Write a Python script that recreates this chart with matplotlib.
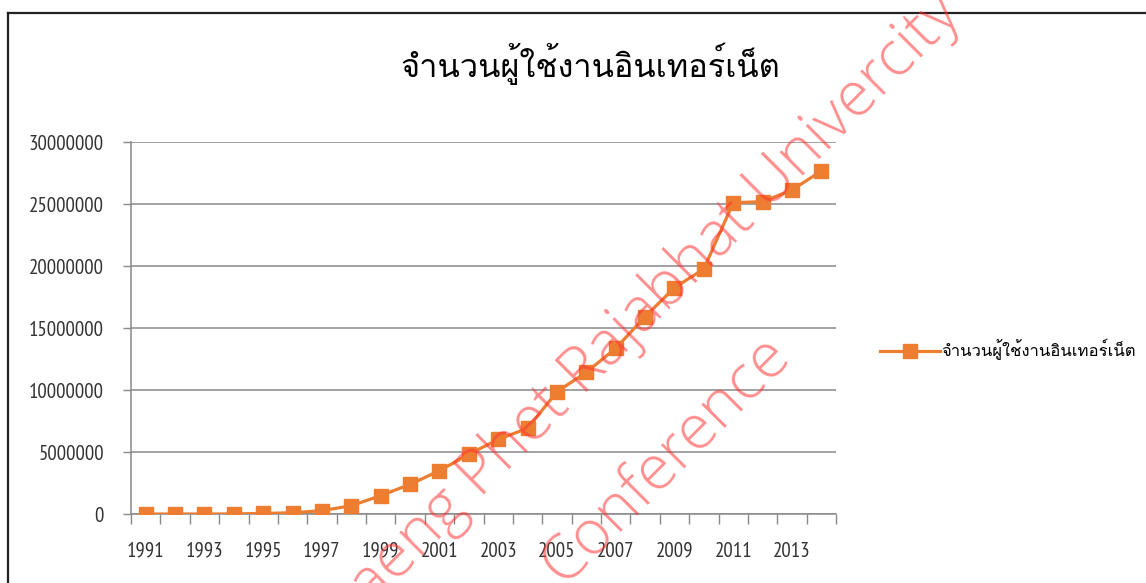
import matplotlib
matplotlib.use("Agg")
import matplotlib.pyplot as plt
import numpy as np
from matplotlib.lines import Line2D
from matplotlib.ticker import FixedLocator, FuncFormatter

# data
years = [str(y) for y in range(1991, 2015)]
users = [
    30, 200, 1400, 7000, 45000, 100000, 270000, 670000,
    1480000, 2390000, 3490000, 4810000, 6020000, 6910000, 9860000, 11430000,
    13360000, 15910000, 18250000, 19760000, 25100000, 25190000, 26130000, 27660000,
]
series_name = "จำนวนผู้ใช้งานอินเทอร์เน็ต"
title = "จำนวนผู้ใช้งานอินเทอร์เน็ต"

ORANGE = "#ed7d31"
GRID = "#898989"
THAI = ["Loma", "DejaVu Sans"]
NUM = ["PT Sans Narrow", "DejaVu Sans"]

W, H = 1146, 583
fig = plt.figure(figsize=(W / 100, H / 100), dpi=100)
ax = fig.add_axes([131 / W, 1 - 514 / H, (836 - 131) / W, (514 - 142) / H])

x = np.arange(len(years))
ax.plot(x, users, color=ORANGE, lw=2.3, marker="s", ms=10, mec=ORANGE, mfc=ORANGE,
        label=series_name, zorder=3)

ax.set_xlim(-0.5, len(years) - 0.5)
ax.set_ylim(0, 30000000)
ax.set_yticks(np.arange(0, 30000001, 5000000))
ax.yaxis.set_major_formatter(FuncFormatter(lambda v, p: f"{int(v)}"))
ax.grid(axis="y", color=GRID, lw=1.1)
ax.set_axisbelow(True)

# category axis: tick marks between categories, labels on every other year
ax.xaxis.set_major_locator(FixedLocator(np.arange(-0.5, len(years), 1.0)))
ax.xaxis.set_major_formatter(FuncFormatter(lambda v, p: ""))
ax.xaxis.set_minor_locator(FixedLocator(x[::2]))
ax.xaxis.set_minor_formatter(FuncFormatter(lambda v, p: years[int(round(v))]))
ax.tick_params(axis="x", which="major", length=7.5, width=1.0, color=GRID)
ax.tick_params(axis="x", which="minor", length=0, pad=20)
ax.tick_params(axis="y", length=6, width=1.0, color=GRID, pad=13.5)

for lab in ax.get_xticklabels(minor=True) + ax.get_yticklabels():
    lab.set_family(NUM)
    lab.set_fontsize(15)
    lab.set_color("#333333")

for side in ("top", "right"):
    ax.spines[side].set_visible(False)
for side in ("left", "bottom"):
    ax.spines[side].set_color(GRID)
    ax.spines[side].set_linewidth(1.1)

fig.text(590 / W, 1 - 64 / H, title, ha="center", va="center", fontsize=23.5,
         family=THAI, color="black")

leg = fig.legend(loc="center left", bbox_to_anchor=(880 / W, 1 - 350 / H),
                 frameon=False, borderpad=0, borderaxespad=0, handlelength=3.6,
                 handletextpad=0.05, prop={"family": THAI, "size": 12})

# outer chart frame (cropped on the right and bottom)
fig.add_artist(Line2D([8 / W, 1.0], [1 - 13 / H] * 2, transform=fig.transFigure,
                      color="#222222", lw=1.6))
fig.add_artist(Line2D([8 / W] * 2, [0, 1 - 13 / H], transform=fig.transFigure,
                      color="#222222", lw=1.6))

# watermark
wm = dict(transform=fig.transFigure, rotation=45, rotation_mode="anchor",
          ha="center", va="center", fontsize=45, family="Open Sans", weight=300,
          color="#ff3030", alpha=0.55, zorder=10)
fig.text(585 / W, 1 - 370 / H, "Kamphaeng Phet Rajabhat Univercity", **wm)
fig.text(665 / W, 1 - 460 / H, "Conference", **wm)

fig.savefig("out.png", dpi=100)
